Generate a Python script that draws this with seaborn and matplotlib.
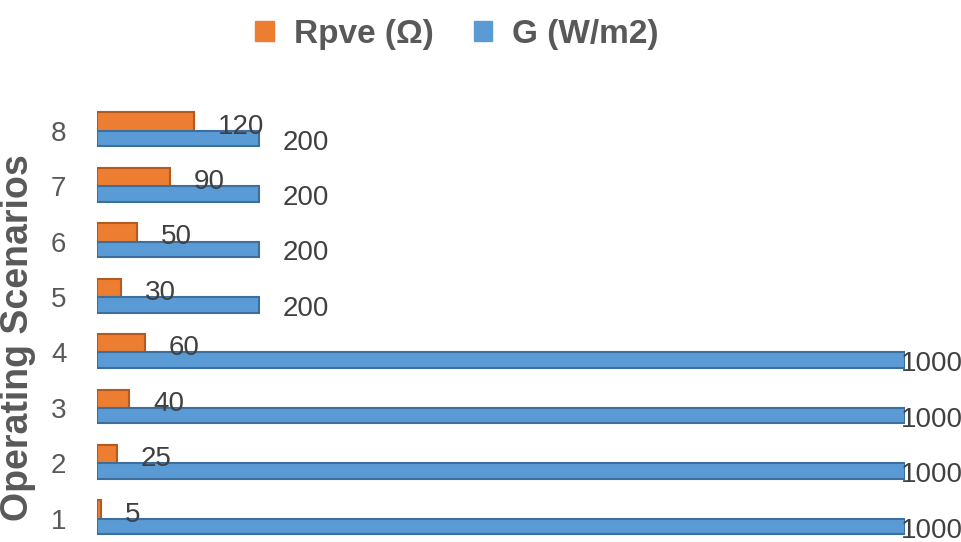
import matplotlib
matplotlib.use("Agg")
import matplotlib.pyplot as plt
import pandas as pd
import seaborn as sns

# chart data
scenarios = ["1", "2", "3", "4", "5", "6", "7", "8"]
rpve = [5, 25, 40, 60, 30, 50, 90, 120]
g_irr = [1000, 1000, 1000, 1000, 200, 200, 200, 200]
series_names = ["Rpve (Ω)", "G (W/m2)"]

ORANGE = "#ED7D31"
BLUE = "#5B9BD5"
TXT = "#595959"

df = pd.DataFrame({
    "scenario": scenarios * 2,
    "value": rpve + g_irr,
    "series": [series_names[0]] * len(scenarios) + [series_names[1]] * len(scenarios),
})

sns.set_style("white")
plt.rcParams["font.family"] = ["Liberation Sans", "DejaVu Sans"]

fig = plt.figure(figsize=(9.62, 5.42), dpi=100)
ax = fig.add_axes([97 / 962, 0.0, 808 / 962, (542 - 103) / 542])

order = scenarios[::-1]
sns.barplot(
    data=df, y="scenario", x="value", hue="series", order=order,
    hue_order=series_names, palette=[ORANGE, BLUE], orient="h",
    width=0.56, saturation=1, ax=ax, legend=False,
)

# orange bar a bit taller and slightly above, blue thinner below (bevelled look)
edge = {ORANGE: "#B35B1E", BLUE: "#3D6F9E"}
shape = {ORANGE: (-0.15, 0.36), BLUE: (0.14, 0.28)}
for cont, col in zip(ax.containers, [ORANGE, BLUE]):
    off, h = shape[col]
    for k, p in enumerate(cont):
        p.set_y(k + off - h / 2)
        p.set_height(h)
        p.set_edgecolor(edge[col])
        p.set_linewidth(1.5)

ax.set_xlim(0, 1000)
ax.set_ylim(7.42, -0.5)
ax.set_xticks([])
ax.set_xlabel("")
ax.set_ylabel("")
ax.tick_params(axis="y", labelsize=20, colors=TXT, length=0, pad=22)
for s in ax.spines.values():
    s.set_visible(False)

fig.text(18 / 962, 1 - 338 / 542, "Operating Scenarios", rotation=90,
         ha="center", va="center", fontsize=27, fontweight="bold", color=TXT)

# value labels
for cont in ax.containers:
    for p in cont:
        v = p.get_width()
        y = p.get_y() + p.get_height() / 2
        dx = -3 if v >= 1000 else 17
        ax.annotate(f"{v:g}", (v, y), xytext=(dx, -3), textcoords="offset points",
                    ha="left", va="center", fontsize=20, color="#404040",
                    annotation_clip=False)

handles = [plt.Rectangle((0, 0), 1, 1, color=c) for c in [ORANGE, BLUE]]
fig.legend(handles, series_names, loc="upper center", bbox_to_anchor=(0.475, 1.02),
           ncol=2, frameon=False, prop={"size": 24, "weight": "bold"},
           labelcolor=TXT, handlelength=0.55, handleheight=0.55, columnspacing=1.2,
           handletextpad=0.6)

fig.savefig("out.png", dpi=100)
